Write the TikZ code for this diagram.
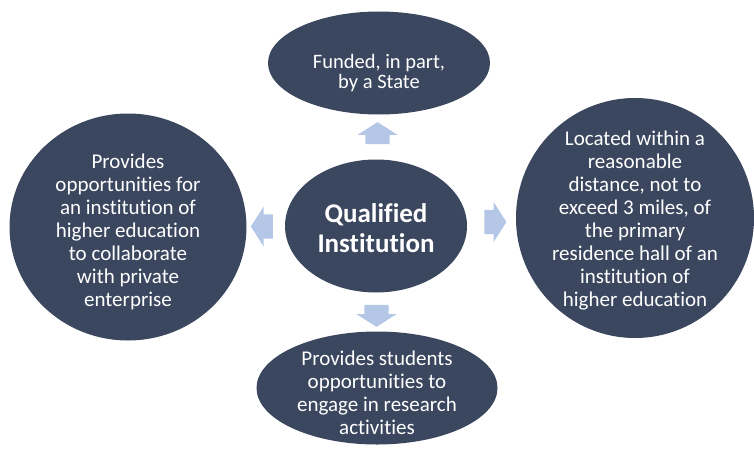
\documentclass[tikz,border=0pt]{standalone}
\usepackage{fontspec}
\setmainfont{Carlito}[Ligatures=NoCommon]
\usetikzlibrary{shapes.geometric,shapes.arrows,calc}

\definecolor{bubblefill}{HTML}{3B475F}
\definecolor{pointerfill}{HTML}{B4C7E7}
% pushes the first line of a bubble down
\newcommand\dropline[1]{\rule{0pt}{#1}}

\tikzset{
  bubble/.style={ellipse,fill=bubblefill,text=white,align=center,inner sep=-12pt,
    font=\fontsize{21}{23}\selectfont},
  pointer/.style={single arrow,fill=pointerfill,inner sep=0pt,outer sep=0pt,
    minimum width=40pt,minimum height=22pt,single arrow head extend=8pt,
    single arrow tip angle=115}
}

\begin{document}
\begin{tikzpicture}[x=1pt,y=-1pt]
\useasboundingbox (0,0) rectangle (754,452);
\node at(376,226)[bubble,minimum width=182pt,minimum height=133pt,
    font=\bfseries\fontsize{27}{30}\selectfont](qi){\dropline{23pt}Qualified\\Institution};
\node at(379,63)[bubble,minimum width=222pt,minimum height=103pt,
    font=\fontsize{20.5}{20}\selectfont](fund){\dropline{34pt}Funded, in part,\\by a State};
\node at(635,218)[bubble,minimum width=238pt,minimum height=240pt](dist)
    {\dropline{19pt}Located within a\\reasonable\\distance, not to\\exceed 3 miles, of\\the primary\\residence hall of an\\institution of\\higher education};
\node at(377,388)[bubble,minimum width=241pt,minimum height=113pt](res)
    {\dropline{24pt}Provides students\\opportunities to\\engage in research\\activities};
\node at(128,227)[bubble,minimum width=237pt,minimum height=227pt](collab)
    {\dropline{25pt}Provides\\opportunities for\\an institution of\\higher education\\to collaborate\\with private\\enterprise};
% block arrows halfway between the centre and each bubble
\foreach \nb/\rot/\opp/\sx/\sy in {fund/90/270/12pt/0pt,dist/0/180/0pt/12pt,
    res/270/90/12pt/0pt,collab/180/0/0pt/12pt}
  \node at($(qi.\rot)!.5!(\nb.\opp)$)[pointer,inner xsep=\sx,inner ysep=\sy,
    shape border rotate=\rot](to\nb){};
\end{tikzpicture}
\end{document}
